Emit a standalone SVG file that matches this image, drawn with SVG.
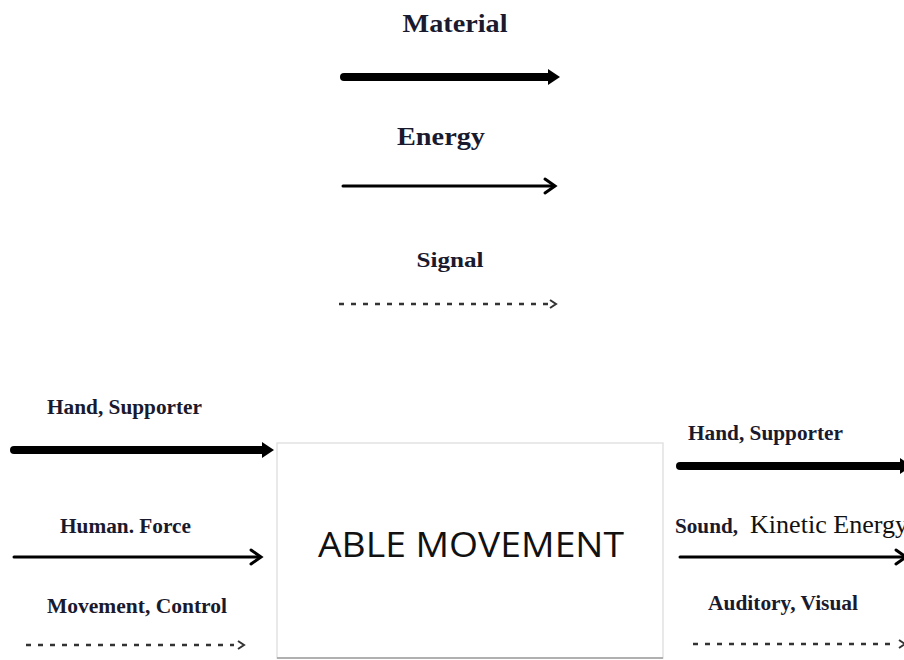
<svg xmlns="http://www.w3.org/2000/svg" width="904" height="660" viewBox="0 0 904 660">
<defs>
<style>
.lbl{font-family:"Liberation Serif","DejaVu Serif",serif;font-weight:bold;fill:#1a1a2e;}
.leg{font-size:26px;}
.sm{font-size:20px;}
.thick{stroke:#000;stroke-width:8;stroke-linecap:round;fill:none;}
.thin{stroke:#000;stroke-width:3;stroke-linecap:round;fill:none;}
.dash{stroke:#333;stroke-width:2.5;stroke-dasharray:5 7;fill:none;}
.head{fill:#000;}
.chev{stroke:#000;stroke-width:3;fill:none;stroke-linecap:round;stroke-linejoin:miter;}
.dchev{stroke:#333;stroke-width:2;fill:none;}
</style>
</defs>
<rect width="904" height="660" fill="#fff"/>

<g id="legend-material">
<text class="lbl leg" x="455" y="32" text-anchor="middle" textLength="105" lengthAdjust="spacingAndGlyphs">Material</text>
</g>
<g id="legend-energy">
<text class="lbl leg" x="441" y="145" text-anchor="middle" textLength="88" lengthAdjust="spacingAndGlyphs">Energy</text>
</g>
<g id="legend-signal">
<text class="lbl sm" x="450" y="267" text-anchor="middle" textLength="67" lengthAdjust="spacingAndGlyphs">Signal</text>
</g>

<g id="able-movement">
<rect x="277" y="443" width="386" height="215" fill="#fff" stroke="#e2e2e2" stroke-width="1.5"/>
<line x1="277" y1="658" x2="663" y2="658" stroke="#b0b0b0" stroke-width="2"/>
<text x="471" y="557" text-anchor="middle" font-family="'Open Sans','Liberation Sans',sans-serif" font-size="34" fill="#111" textLength="306" lengthAdjust="spacingAndGlyphs">ABLE MOVEMENT</text>
</g>

<g id="labels-in">
<text class="lbl sm" x="47" y="414" textLength="155" lengthAdjust="spacingAndGlyphs">Hand, Supporter</text>
<text class="lbl sm" x="60" y="533" textLength="131" lengthAdjust="spacingAndGlyphs">Human. Force</text>
<text class="lbl sm" x="47" y="613" textLength="180" lengthAdjust="spacingAndGlyphs">Movement, Control</text>
</g>
<g id="labels-out">
<text class="lbl sm" x="688" y="440" textLength="155" lengthAdjust="spacingAndGlyphs">Hand, Supporter</text>
<text class="lbl sm" x="675" y="533" textLength="63" lengthAdjust="spacingAndGlyphs">Sound,</text>
<text x="750" y="533" font-family="'Liberation Serif','DejaVu Serif',serif" font-size="25" fill="#111" textLength="158" lengthAdjust="spacingAndGlyphs">Kinetic Energy</text>
<text class="lbl sm" x="708" y="610" textLength="150" lengthAdjust="spacingAndGlyphs">Auditory, Visual</text>
</g>

<g id="connectors">
<line class="thick" x1="344" y1="77" x2="550" y2="77"/>
<polygon class="head" points="548,69 560,77 548,85"/>
<line class="thin" x1="343" y1="186" x2="554" y2="186"/>
<polyline class="chev" points="545,179 555,186 545,193"/>
<line class="dash" x1="339" y1="304" x2="548" y2="304"/>
<polyline class="dchev" points="550,300 556,304 550,308"/>
<line class="thick" x1="14" y1="450" x2="264" y2="450"/>
<polygon class="head" points="262,442 274,450 262,458"/>
<line class="thin" x1="14" y1="557" x2="260" y2="557"/>
<polyline class="chev" points="251,550 261,557 251,564"/>
<line class="dash" x1="26" y1="645" x2="234" y2="645"/>
<polyline class="dchev" points="238,641 244,645 238,649"/>
<line class="thick" x1="680" y1="466" x2="904" y2="466"/>
<polygon class="head" points="900,458 912,466 900,474"/>
<line class="thin" x1="680" y1="557" x2="904" y2="557"/>
<polyline class="chev" points="896,550 906,557 896,564"/>
<line class="dash" x1="693" y1="644" x2="895" y2="644"/>
<polyline class="dchev" points="899,640 905,644 899,648"/>
</g>
</svg>
